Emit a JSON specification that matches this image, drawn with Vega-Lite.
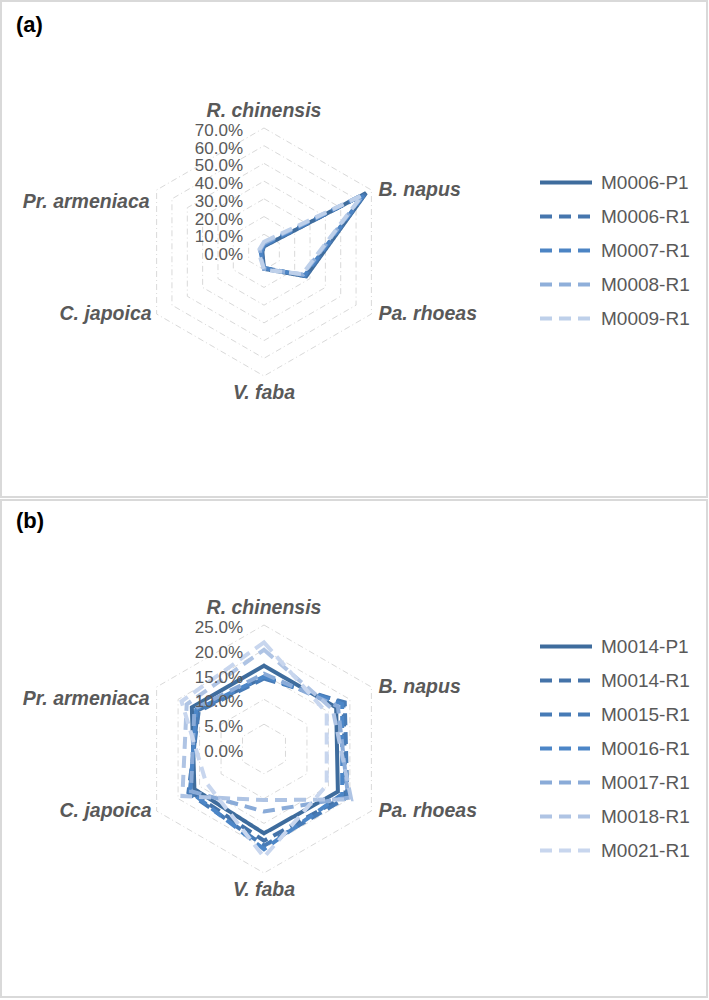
{
  "$schema": "https://vega.github.io/schema/vega-lite/v6.json",
  "padding": 0,
  "background": "white",
  "spacing": 1,
  "config": {
    "view": {"stroke": "#d9d9d9", "strokeWidth": 2},
    "font": "Liberation Sans",
    "text": {"font": "Liberation Sans"}
  },
  "datasets": {
    "species": [
      {"species": "R. chinensis", "idx": 0},
      {"species": "B. napus", "idx": 1},
      {"species": "Pa. rhoeas", "idx": 2},
      {"species": "V. faba", "idx": 3},
      {"species": "C. japoica", "idx": 4},
      {"species": "Pr. armeniaca", "idx": 5}
    ],
    "ringsA": [
      {"level": 0, "k": [0,1,2,3,4,5]},
      {"level": 0.1, "k": [0,1,2,3,4,5]},
      {"level": 0.2, "k": [0,1,2,3,4,5]},
      {"level": 0.3, "k": [0,1,2,3,4,5]},
      {"level": 0.4, "k": [0,1,2,3,4,5]},
      {"level": 0.5, "k": [0,1,2,3,4,5]},
      {"level": 0.6, "k": [0,1,2,3,4,5]},
      {"level": 0.7, "k": [0,1,2,3,4,5]}
    ],
    "ringsB": [
      {"level": 0, "k": [0,1,2,3,4,5]},
      {"level": 0.05, "k": [0,1,2,3,4,5]},
      {"level": 0.1, "k": [0,1,2,3,4,5]},
      {"level": 0.15, "k": [0,1,2,3,4,5]},
      {"level": 0.2, "k": [0,1,2,3,4,5]},
      {"level": 0.25, "k": [0,1,2,3,4,5]}
    ],
    "valsA": [
      {"series": "M0006-P1", "species": "R. chinensis", "idx": 0, "value": 3.2},
      {"series": "M0006-P1", "species": "B. napus", "idx": 1, "value": 66.5},
      {"series": "M0006-P1", "species": "Pa. rhoeas", "idx": 2, "value": 27.5},
      {"series": "M0006-P1", "species": "V. faba", "idx": 3, "value": 9.5},
      {"series": "M0006-P1", "species": "C. japoica", "idx": 4, "value": 1.0},
      {"series": "M0006-P1", "species": "Pr. armeniaca", "idx": 5, "value": 1.0},
      {"series": "M0006-R1", "species": "R. chinensis", "idx": 0, "value": 3.5},
      {"series": "M0006-R1", "species": "B. napus", "idx": 1, "value": 66.0},
      {"series": "M0006-R1", "species": "Pa. rhoeas", "idx": 2, "value": 27.0},
      {"series": "M0006-R1", "species": "V. faba", "idx": 3, "value": 9.0},
      {"series": "M0006-R1", "species": "C. japoica", "idx": 4, "value": 1.5},
      {"series": "M0006-R1", "species": "Pr. armeniaca", "idx": 5, "value": 1.2},
      {"series": "M0007-R1", "species": "R. chinensis", "idx": 0, "value": 4.0},
      {"series": "M0007-R1", "species": "B. napus", "idx": 1, "value": 65.5},
      {"series": "M0007-R1", "species": "Pa. rhoeas", "idx": 2, "value": 26.5},
      {"series": "M0007-R1", "species": "V. faba", "idx": 3, "value": 9.0},
      {"series": "M0007-R1", "species": "C. japoica", "idx": 4, "value": 2.0},
      {"series": "M0007-R1", "species": "Pr. armeniaca", "idx": 5, "value": 1.5},
      {"series": "M0008-R1", "species": "R. chinensis", "idx": 0, "value": 5.0},
      {"series": "M0008-R1", "species": "B. napus", "idx": 1, "value": 64.5},
      {"series": "M0008-R1", "species": "Pa. rhoeas", "idx": 2, "value": 25.5},
      {"series": "M0008-R1", "species": "V. faba", "idx": 3, "value": 9.5},
      {"series": "M0008-R1", "species": "C. japoica", "idx": 4, "value": 2.5},
      {"series": "M0008-R1", "species": "Pr. armeniaca", "idx": 5, "value": 2.5},
      {"series": "M0009-R1", "species": "R. chinensis", "idx": 0, "value": 5.8},
      {"series": "M0009-R1", "species": "B. napus", "idx": 1, "value": 64.0},
      {"series": "M0009-R1", "species": "Pa. rhoeas", "idx": 2, "value": 25.0},
      {"series": "M0009-R1", "species": "V. faba", "idx": 3, "value": 10.0},
      {"series": "M0009-R1", "species": "C. japoica", "idx": 4, "value": 3.0},
      {"series": "M0009-R1", "species": "Pr. armeniaca", "idx": 5, "value": 3.0}
    ],
    "valsB": [
      {"series": "M0014-P1", "species": "R. chinensis", "idx": 0, "value": 16.8},
      {"series": "M0014-P1", "species": "B. napus", "idx": 1, "value": 16.8},
      {"series": "M0014-P1", "species": "Pa. rhoeas", "idx": 2, "value": 17.2},
      {"series": "M0014-P1", "species": "V. faba", "idx": 3, "value": 17.0},
      {"series": "M0014-P1", "species": "C. japoica", "idx": 4, "value": 16.2},
      {"series": "M0014-P1", "species": "Pr. armeniaca", "idx": 5, "value": 16.8},
      {"series": "M0014-R1", "species": "R. chinensis", "idx": 0, "value": 14.5},
      {"series": "M0014-R1", "species": "B. napus", "idx": 1, "value": 18.5},
      {"series": "M0014-R1", "species": "Pa. rhoeas", "idx": 2, "value": 19.0},
      {"series": "M0014-R1", "species": "V. faba", "idx": 3, "value": 18.5},
      {"series": "M0014-R1", "species": "C. japoica", "idx": 4, "value": 17.2},
      {"series": "M0014-R1", "species": "Pr. armeniaca", "idx": 5, "value": 15.5},
      {"series": "M0015-R1", "species": "R. chinensis", "idx": 0, "value": 14.2},
      {"series": "M0015-R1", "species": "B. napus", "idx": 1, "value": 18.8},
      {"series": "M0015-R1", "species": "Pa. rhoeas", "idx": 2, "value": 19.4},
      {"series": "M0015-R1", "species": "V. faba", "idx": 3, "value": 19.5},
      {"series": "M0015-R1", "species": "C. japoica", "idx": 4, "value": 17.6},
      {"series": "M0015-R1", "species": "Pr. armeniaca", "idx": 5, "value": 15.2},
      {"series": "M0016-R1", "species": "R. chinensis", "idx": 0, "value": 14.6},
      {"series": "M0016-R1", "species": "B. napus", "idx": 1, "value": 18.2},
      {"series": "M0016-R1", "species": "Pa. rhoeas", "idx": 2, "value": 18.2},
      {"series": "M0016-R1", "species": "V. faba", "idx": 3, "value": 20.2},
      {"series": "M0016-R1", "species": "C. japoica", "idx": 4, "value": 17.2},
      {"series": "M0016-R1", "species": "Pr. armeniaca", "idx": 5, "value": 15.8},
      {"series": "M0017-R1", "species": "R. chinensis", "idx": 0, "value": 15.2},
      {"series": "M0017-R1", "species": "B. napus", "idx": 1, "value": 17.2},
      {"series": "M0017-R1", "species": "Pa. rhoeas", "idx": 2, "value": 19.6},
      {"series": "M0017-R1", "species": "V. faba", "idx": 3, "value": 12.6},
      {"series": "M0017-R1", "species": "C. japoica", "idx": 4, "value": 17.0},
      {"series": "M0017-R1", "species": "Pr. armeniaca", "idx": 5, "value": 16.2},
      {"series": "M0018-R1", "species": "R. chinensis", "idx": 0, "value": 20.0},
      {"series": "M0018-R1", "species": "B. napus", "idx": 1, "value": 16.0},
      {"series": "M0018-R1", "species": "Pa. rhoeas", "idx": 2, "value": 20.3},
      {"series": "M0018-R1", "species": "V. faba", "idx": 3, "value": 10.3},
      {"series": "M0018-R1", "species": "C. japoica", "idx": 4, "value": 19.0},
      {"series": "M0018-R1", "species": "Pr. armeniaca", "idx": 5, "value": 18.0},
      {"series": "M0021-R1", "species": "R. chinensis", "idx": 0, "value": 21.5},
      {"series": "M0021-R1", "species": "B. napus", "idx": 1, "value": 14.6},
      {"series": "M0021-R1", "species": "Pa. rhoeas", "idx": 2, "value": 14.6},
      {"series": "M0021-R1", "species": "V. faba", "idx": 3, "value": 21.8},
      {"series": "M0021-R1", "species": "C. japoica", "idx": 4, "value": 13.5},
      {"series": "M0021-R1", "species": "Pr. armeniaca", "idx": 5, "value": 19.2}
    ]
  },
  "vconcat": [
    {
      "width": 706,
      "height": 496,
      "title": {"text": "(a)", "anchor": "start", "frame": "group", "orient": "top", "offset": -46, "dx": 15, "baseline": "middle", "fontSize": 22, "fontWeight": "bold", "color": "#000000", "font": "Liberation Sans"},
      "encoding": {
        "x": {"field": "x", "type": "quantitative", "scale": {"domain": [-2.121, 3.5726], "nice": false, "zero": false}, "axis": null},
        "y": {"field": "y", "type": "quantitative", "scale": {"domain": [-1.9758, 2.0242], "nice": false, "zero": false}, "axis": null}
      },
      "layer": [
        {
          "data": {"name": "ringsA"},
          "transform": [
            {"flatten": ["k"]},
            {"calculate": "datum.level/0.7*sin(datum.k*PI/3)", "as": "x"},
            {"calculate": "datum.level/0.7*cos(datum.k*PI/3)", "as": "y"}
          ],
          "mark": {"type": "line", "interpolate": "linear-closed", "color": "#d9d9d9", "strokeWidth": 1, "strokeDash": [6, 3, 1, 3]},
          "encoding": {"detail": {"field": "level", "type": "quantitative"}, "order": {"field": "k", "type": "quantitative"}}
        },
        {
          "data": {"name": "valsA"},
          "transform": [
            {"calculate": "datum.value/70*sin(datum.idx*PI/3)", "as": "x"},
            {"calculate": "datum.value/70*cos(datum.idx*PI/3)", "as": "y"}
          ],
          "mark": {"type": "line", "interpolate": "linear-closed", "strokeWidth": 4},
          "encoding": {
            "color": {"field": "series", "type": "nominal",
              "scale": {"domain": ["M0006-P1", "M0006-R1", "M0007-R1", "M0008-R1", "M0009-R1"], "range": ["#3E6C9D", "#4676AE", "#4C84C4", "#8FAFDA", "#BED0EA"]},
              "legend": {"orient": "none", "legendX": 555.5, "legendY": 172, "title": null, "padding": 0, "symbolType": "M-4,0H4", "symbolSize": 169, "symbolStrokeWidth": 4, "labelFontSize": 19, "labelColor": "#595959", "labelFont": "Liberation Sans", "labelOffset": 25.5, "rowPadding": 14, "labelLimit": 0}},
            "strokeDash": {"field": "series", "type": "nominal",
              "scale": {"domain": ["M0006-P1", "M0006-R1", "M0007-R1", "M0008-R1", "M0009-R1"], "range": [[1, 0], [12, 7], [12, 7], [12, 7], [12, 7]]},
              "legend": {"orient": "none", "legendX": 555.5, "legendY": 172, "title": null, "padding": 0, "symbolType": "M-4,0H4", "symbolSize": 169, "symbolStrokeWidth": 4, "labelFontSize": 19, "labelColor": "#595959", "labelFont": "Liberation Sans", "labelOffset": 25.5, "rowPadding": 14, "labelLimit": 0}},
            "order": {"field": "idx", "type": "quantitative"}
          }
        },
        {
          "data": {"name": "ringsA"},
          "transform": [
            {"calculate": "datum.level/0.7", "as": "y"},
            {"calculate": "0", "as": "x"}
          ],
          "mark": {"type": "text", "align": "right", "baseline": "middle", "dx": -21, "dy": 3, "fontSize": 17, "color": "#595959"},
          "encoding": {"text": {"field": "level", "type": "quantitative", "format": ".1%"}}
        },
        {
          "data": {"name": "species"},
          "transform": [
            {"filter": "datum.idx==0 || datum.idx==3"},
            {"calculate": "1.14*sin(datum.idx*PI/3)", "as": "x"},
            {"calculate": "1.14*cos(datum.idx*PI/3)", "as": "y"}
          ],
          "mark": {"type": "text", "align": "center", "baseline": "middle", "fontSize": 19.5, "fontWeight": "bold", "fontStyle": "italic", "color": "#595959"},
          "encoding": {"text": {"field": "species", "type": "nominal"}}
        },
        {
          "data": {"name": "species"},
          "transform": [
            {"filter": "datum.idx==1 || datum.idx==2"},
            {"calculate": "sin(datum.idx*PI/3)", "as": "x"},
            {"calculate": "cos(datum.idx*PI/3)", "as": "y"}
          ],
          "mark": {"type": "text", "align": "left", "baseline": "middle", "dx": 7, "fontSize": 19.5, "fontWeight": "bold", "fontStyle": "italic", "color": "#595959"},
          "encoding": {"text": {"field": "species", "type": "nominal"}}
        },
        {
          "data": {"name": "species"},
          "transform": [
            {"filter": "datum.idx==4"},
            {"calculate": "sin(datum.idx*PI/3)", "as": "x"},
            {"calculate": "cos(datum.idx*PI/3)", "as": "y"}
          ],
          "mark": {"type": "text", "align": "right", "baseline": "middle", "dx": -5, "fontSize": 19.5, "fontWeight": "bold", "fontStyle": "italic", "color": "#595959"},
          "encoding": {"text": {"field": "species", "type": "nominal"}}
        },
        {
          "data": {"name": "species"},
          "transform": [
            {"filter": "datum.idx==5"},
            {"calculate": "sin(datum.idx*PI/3)", "as": "x"},
            {"calculate": "cos(datum.idx*PI/3)", "as": "y"}
          ],
          "mark": {"type": "text", "align": "right", "baseline": "middle", "dx": -7, "dy": 12, "fontSize": 19.5, "fontWeight": "bold", "fontStyle": "italic", "color": "#595959"},
          "encoding": {"text": {"field": "species", "type": "nominal"}}
        }
      ]
    },
    {
      "width": 706,
      "height": 497,
      "title": {"text": "(b)", "anchor": "start", "frame": "group", "orient": "top", "offset": -42.5, "dx": 15, "baseline": "middle", "fontSize": 22, "fontWeight": "bold", "color": "#000000", "font": "Liberation Sans"},
      "encoding": {
        "x": {"field": "x", "type": "quantitative", "scale": {"domain": [-2.121, 3.5726], "nice": false, "zero": false}, "axis": null},
        "y": {"field": "y", "type": "quantitative", "scale": {"domain": [-2.0, 2.0081], "nice": false, "zero": false}, "axis": null}
      },
      "layer": [
        {
          "data": {"name": "ringsB"},
          "transform": [
            {"flatten": ["k"]},
            {"calculate": "datum.level/0.25*sin(datum.k*PI/3)", "as": "x"},
            {"calculate": "datum.level/0.25*cos(datum.k*PI/3)", "as": "y"}
          ],
          "mark": {"type": "line", "interpolate": "linear-closed", "color": "#d9d9d9", "strokeWidth": 1, "strokeDash": [6, 3, 1, 3]},
          "encoding": {"detail": {"field": "level", "type": "quantitative"}, "order": {"field": "k", "type": "quantitative"}}
        },
        {
          "data": {"name": "valsB"},
          "transform": [
            {"calculate": "datum.value/25*sin(datum.idx*PI/3)", "as": "x"},
            {"calculate": "datum.value/25*cos(datum.idx*PI/3)", "as": "y"}
          ],
          "mark": {"type": "line", "interpolate": "linear-closed", "strokeWidth": 4},
          "encoding": {
            "color": {"field": "series", "type": "nominal",
              "scale": {"domain": ["M0014-P1", "M0014-R1", "M0015-R1", "M0016-R1", "M0017-R1", "M0018-R1", "M0021-R1"], "range": ["#3E6C9D", "#4473A9", "#477BB6", "#4C86C7", "#8AABD8", "#AFC4E4", "#C8D6EE"]},
              "legend": {"orient": "none", "legendX": 555.5, "legendY": 137, "title": null, "padding": 0, "symbolType": "M-4,0H4", "symbolSize": 169, "symbolStrokeWidth": 4, "labelFontSize": 19, "labelColor": "#595959", "labelFont": "Liberation Sans", "labelOffset": 25.5, "rowPadding": 14, "labelLimit": 0}},
            "strokeDash": {"field": "series", "type": "nominal",
              "scale": {"domain": ["M0014-P1", "M0014-R1", "M0015-R1", "M0016-R1", "M0017-R1", "M0018-R1", "M0021-R1"], "range": [[1, 0], [12, 7], [12, 7], [12, 7], [12, 7], [12, 7], [12, 7]]},
              "legend": {"orient": "none", "legendX": 555.5, "legendY": 137, "title": null, "padding": 0, "symbolType": "M-4,0H4", "symbolSize": 169, "symbolStrokeWidth": 4, "labelFontSize": 19, "labelColor": "#595959", "labelFont": "Liberation Sans", "labelOffset": 25.5, "rowPadding": 14, "labelLimit": 0}},
            "order": {"field": "idx", "type": "quantitative"}
          }
        },
        {
          "data": {"name": "ringsB"},
          "transform": [
            {"calculate": "datum.level/0.25", "as": "y"},
            {"calculate": "0", "as": "x"}
          ],
          "mark": {"type": "text", "align": "right", "baseline": "middle", "dx": -21, "dy": 3, "fontSize": 17, "color": "#595959"},
          "encoding": {"text": {"field": "level", "type": "quantitative", "format": ".1%"}}
        },
        {
          "data": {"name": "species"},
          "transform": [
            {"filter": "datum.idx==0 || datum.idx==3"},
            {"calculate": "1.14*sin(datum.idx*PI/3)", "as": "x"},
            {"calculate": "1.14*cos(datum.idx*PI/3)", "as": "y"}
          ],
          "mark": {"type": "text", "align": "center", "baseline": "middle", "fontSize": 19.5, "fontWeight": "bold", "fontStyle": "italic", "color": "#595959"},
          "encoding": {"text": {"field": "species", "type": "nominal"}}
        },
        {
          "data": {"name": "species"},
          "transform": [
            {"filter": "datum.idx==1 || datum.idx==2"},
            {"calculate": "sin(datum.idx*PI/3)", "as": "x"},
            {"calculate": "cos(datum.idx*PI/3)", "as": "y"}
          ],
          "mark": {"type": "text", "align": "left", "baseline": "middle", "dx": 7, "fontSize": 19.5, "fontWeight": "bold", "fontStyle": "italic", "color": "#595959"},
          "encoding": {"text": {"field": "species", "type": "nominal"}}
        },
        {
          "data": {"name": "species"},
          "transform": [
            {"filter": "datum.idx==4"},
            {"calculate": "sin(datum.idx*PI/3)", "as": "x"},
            {"calculate": "cos(datum.idx*PI/3)", "as": "y"}
          ],
          "mark": {"type": "text", "align": "right", "baseline": "middle", "dx": -5, "fontSize": 19.5, "fontWeight": "bold", "fontStyle": "italic", "color": "#595959"},
          "encoding": {"text": {"field": "species", "type": "nominal"}}
        },
        {
          "data": {"name": "species"},
          "transform": [
            {"filter": "datum.idx==5"},
            {"calculate": "sin(datum.idx*PI/3)", "as": "x"},
            {"calculate": "cos(datum.idx*PI/3)", "as": "y"}
          ],
          "mark": {"type": "text", "align": "right", "baseline": "middle", "dx": -7, "dy": 12, "fontSize": 19.5, "fontWeight": "bold", "fontStyle": "italic", "color": "#595959"},
          "encoding": {"text": {"field": "species", "type": "nominal"}}
        }
      ]
    }
  ],
  "resolve": {
    "scale": {"x": "independent", "y": "independent", "color": "independent", "strokeDash": "independent"},
    "legend": {"color": "independent", "strokeDash": "independent"}
  }
}
